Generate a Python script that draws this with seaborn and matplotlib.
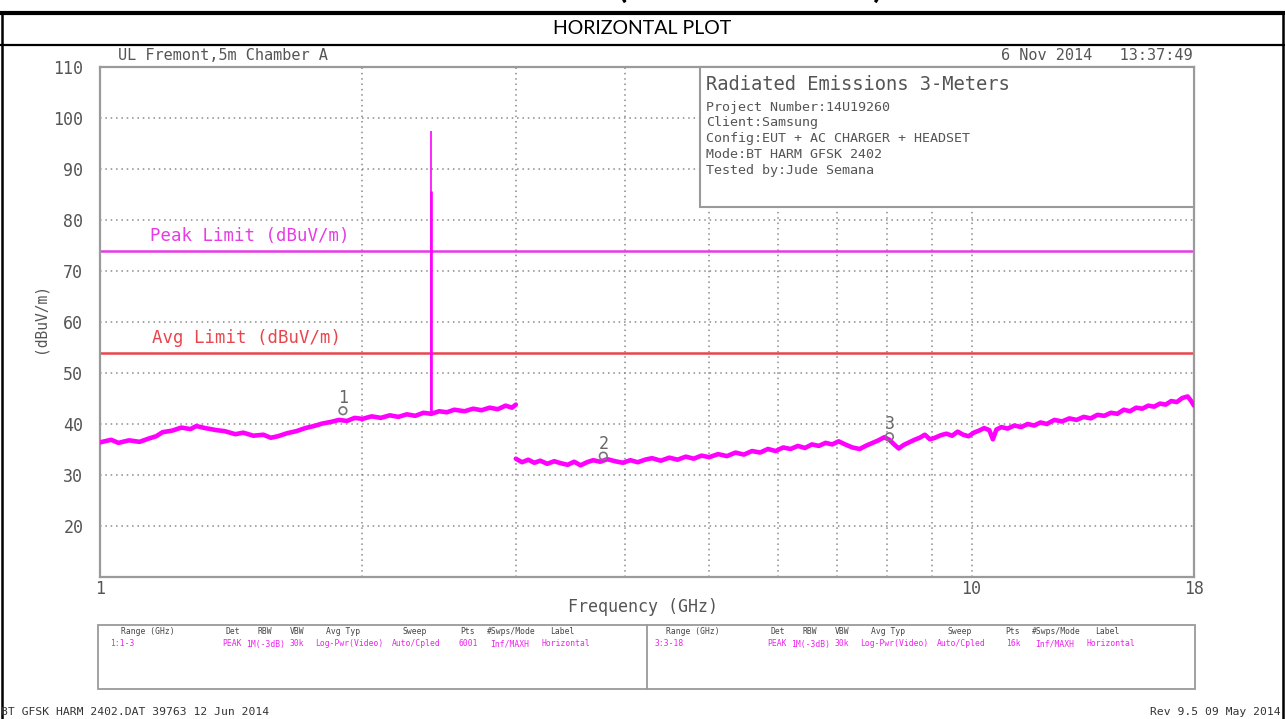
import numpy as np
import pandas as pd
import matplotlib
matplotlib.use("Agg")
import matplotlib.pyplot as plt
import seaborn as sns
from matplotlib.lines import Line2D
from matplotlib.patches import Rectangle
from matplotlib.ticker import NullFormatter

# ---------------- data ----------------
seg1_freq = [1.00, 1.03, 1.05, 1.08, 1.11, 1.14, 1.16, 1.18, 1.21, 1.24, 1.27, 1.29, 1.32,
             1.36, 1.39, 1.43, 1.46, 1.50, 1.54, 1.57, 1.60, 1.64, 1.68, 1.72, 1.76, 1.80,
             1.84, 1.88, 1.92, 1.96, 2.00, 2.05, 2.10, 2.15, 2.20, 2.25, 2.30, 2.35, 2.40,
             2.45, 2.50, 2.55, 2.62, 2.68, 2.74, 2.80, 2.86, 2.92, 2.97, 3.00]
seg1_val = [36.4, 36.9, 36.3, 36.8, 36.5, 37.2, 37.6, 38.4, 38.7, 39.3, 39.0, 39.6, 39.2,
            38.8, 38.6, 38.0, 38.3, 37.7, 37.9, 37.3, 37.6, 38.2, 38.6, 39.2, 39.6, 40.1,
            40.4, 40.8, 40.6, 41.2, 41.0, 41.5, 41.2, 41.7, 41.4, 41.9, 41.6, 42.2, 42.0,
            42.5, 42.3, 42.8, 42.5, 43.0, 42.7, 43.2, 42.9, 43.6, 43.2, 43.8]

seg2_freq = [3.00, 3.05, 3.10, 3.15, 3.20, 3.26, 3.32, 3.38, 3.44, 3.50, 3.56, 3.62, 3.68,
             3.75, 3.82, 3.90, 3.98, 4.06, 4.14, 4.22, 4.30, 4.40, 4.50, 4.60, 4.70, 4.80,
             4.90, 5.00, 5.12, 5.24, 5.36, 5.48, 5.60, 5.72, 5.84, 5.96, 6.08, 6.20, 6.32,
             6.44, 6.56, 6.68, 6.80, 6.92, 7.04, 7.16, 7.30, 7.44, 7.58, 7.70, 7.82, 7.94,
             8.05, 8.15, 8.25, 8.36, 8.48, 8.60, 8.72, 8.84, 8.96, 9.08, 9.22, 9.36, 9.50,
             9.64, 9.78, 9.92, 10.06, 10.20, 10.34, 10.48, 10.58, 10.68, 10.82, 11.00, 11.20,
             11.40, 11.60, 11.80, 12.00, 12.20, 12.45, 12.70, 12.95, 13.20, 13.45, 13.70,
             13.95, 14.20, 14.45, 14.70, 14.95, 15.20, 15.45, 15.70, 15.95, 16.20, 16.45,
             16.70, 16.95, 17.20, 17.45, 17.70, 17.85, 18.00]
seg2_val = [33.2, 32.5, 33.0, 32.4, 32.8, 32.2, 32.7, 32.3, 32.0, 32.6, 31.9, 32.5, 32.9,
            32.6, 33.1, 32.7, 32.4, 32.9, 32.5, 33.0, 33.3, 32.8, 33.4, 33.0, 33.6, 33.2,
            33.8, 33.5, 34.1, 33.7, 34.4, 34.0, 34.7, 34.4, 35.1, 34.7, 35.4, 35.1, 35.7,
            35.3, 36.0, 35.7, 36.3, 36.0, 36.6, 36.0, 35.4, 35.1, 35.8, 36.3, 36.8, 37.4,
            36.9, 36.0, 35.2, 35.9, 36.4, 36.9, 37.3, 37.9, 37.0, 37.3, 37.8, 38.1, 37.7,
            38.5, 37.9, 37.6, 38.3, 38.7, 39.2, 38.8, 37.0, 38.9, 39.4, 39.1, 39.7,
            39.4, 40.0, 39.7, 40.3, 40.0, 40.8, 40.5, 41.1, 40.8, 41.4, 41.1,
            41.8, 41.6, 42.2, 42.0, 42.8, 42.5, 43.2, 43.0, 43.6, 43.4, 44.0,
            43.8, 44.5, 44.3, 45.1, 45.4, 44.6, 43.6]

spike_freq = [2.40]
spike_base = [42.2]
spike_top = [97.4]
spike_shoulder = [85.6]

peak_limit = 74
avg_limit = 54

marker_freq = [1.90, 3.78, 8.05]
marker_val = [42.6, 33.7, 37.5]
marker_lbl = ["1", "2", "3"]

x_ticks = [1, 10, 18]
x_ticklabels = ["1", "10", "18"]
x_minor = [2, 3, 4, 5, 6, 7, 8, 9]
y_ticks = [20, 30, 40, 50, 60, 70, 80, 90, 100, 110]

info_title = "Radiated Emissions 3-Meters"
info_lines = ["Project Number:14U19260", "Client:Samsung",
              "Config:EUT + AC CHARGER + HEADSET", "Mode:BT HARM GFSK 2402",
              "Tested by:Jude Semana"]

tbl_headers = ["Range (GHz)", "Det", "RBW", "VBW", "Avg Typ", "Sweep", "Pts",
               "#Swps/Mode", "Label"]
tbl_row1 = ["1:1-3", "PEAK", "1M(-3dB)", "30k", "Log-Pwr(Video)", "Auto/Cpled",
            "6001", "Inf/MAXH", "Horizontal"]
tbl_row2 = ["3:3-18", "PEAK", "1M(-3dB)", "30k", "Log-Pwr(Video)", "Auto/Cpled",
            "16k", "Inf/MAXH", "Horizontal"]

# ---------------- style ----------------
sns.set_theme(style="white")
MONO = ["DejaVu Sans Mono"]
plt.rcParams["font.family"] = MONO

W, H = 1285, 719
def fx(x): return x / W
def fy(y): return 1 - y / H

TRACE = "#ff00ff"
PEAKC = "#e63be6"
AVGC = "#e8454c"
GRAY = "#555555"
GRID = "#8a8a8a"

fig = plt.figure(figsize=(W / 100, H / 100), dpi=100)
fig.patch.set_facecolor("white")

# document frame
fig.add_artist(Line2D([0, 1], [fy(13), fy(13)], color="black", lw=3))
fig.add_artist(Line2D([0, 1], [fy(45), fy(45)], color="black", lw=1.6))
fig.add_artist(Line2D([fx(2), fx(2)], [0, fy(13)], color="black", lw=1.8))
fig.add_artist(Line2D([fx(1283), fx(1283)], [0, fy(13)], color="black", lw=1.8))
fig.text(fx(618), fy(-2), "(LOW CHANNEL)", family=["Lato"], weight="bold", size=24,
         ha="left", va="baseline", color="black")
fig.text(fx(642), fy(29), "HORIZONTAL PLOT", family=["Lato"], size=14,
         ha="center", va="center", color="black")

# plot axes
ax = fig.add_axes([fx(100), fy(577), fx(1194) - fx(100), fy(67) - fy(577)])
ax.set_xscale("log")

df1 = pd.DataFrame({"f": seg1_freq, "v": seg1_val})
df2 = pd.DataFrame({"f": seg2_freq, "v": seg2_val})
sns.lineplot(data=df1, x="f", y="v", ax=ax, color=TRACE, lw=3.3, sort=False,
             estimator=None, zorder=3)
sns.lineplot(data=df2, x="f", y="v", ax=ax, color=TRACE, lw=3.3, sort=False,
             estimator=None, zorder=3)
ax.vlines(spike_freq, spike_base, spike_top, color=TRACE, lw=1.2, zorder=3)
ax.vlines(spike_freq, spike_base, spike_shoulder, color=TRACE, lw=1.9, zorder=3)

ax.axhline(peak_limit, color=PEAKC, lw=1.8, zorder=2)
ax.axhline(avg_limit, color=AVGC, lw=1.8, zorder=2)
ax.text(1.142, peak_limit + 2.8, "Peak Limit (dBuV/m)", color=PEAKC, size=12.5,
        va="center", ha="left")
ax.text(1.148, avg_limit + 2.9, "Avg Limit (dBuV/m)", color=AVGC, size=12.5,
        va="center", ha="left")

ax.scatter(marker_freq, marker_val, s=30, facecolors="none", edgecolors="#777777",
           lw=1.2, zorder=4)
for f, v, l in zip(marker_freq, marker_val, marker_lbl):
    ax.annotate(l, (f, v), xytext=(0, 9), textcoords="offset points", ha="center",
                va="center", color="#666666", size=12)

ax.set_xlim(1, 18)
ax.set_ylim(10, 110)
ax.set_xticks(x_ticks)
ax.set_xticklabels(x_ticklabels)
ax.set_xticks(x_minor, minor=True)
ax.xaxis.set_minor_formatter(NullFormatter())
ax.set_yticks(y_ticks)
ax.grid(True, which="both", axis="x", color=GRID, ls=(0, (1, 2.5)), lw=1.1)
ax.grid(True, which="major", axis="y", color=GRID, ls=(0, (1, 2.5)), lw=1.1)
ax.tick_params(which="both", length=0, labelcolor=GRAY, labelsize=12)
ax.tick_params(axis="y", pad=12)
ax.tick_params(axis="x", pad=2)
ax.set_xlabel("")
ax.set_ylabel("")
for s in ax.spines.values():
    s.set_color("#9a9a9a")
    s.set_linewidth(1.6)
    s.set_visible(True)

fig.text(fx(643), fy(607), "Frequency (GHz)", color=GRAY, size=12, ha="center", va="center")
fig.text(fx(40), fy(318), "(dBuV/m)", color=GRAY, size=10.5, rotation=90,
         ha="center", va="center")
fig.text(fx(118), fy(56), "UL Fremont,5m Chamber A", color=GRAY, size=11, ha="left", va="center")
fig.text(fx(1193), fy(56), "6 Nov 2014   13:37:49", color=GRAY, size=11, ha="right", va="center")

# info box
fig.add_artist(Rectangle((fx(700), fy(207)), fx(1194) - fx(700), fy(67) - fy(207),
                         transform=fig.transFigure, facecolor="white", edgecolor="#9a9a9a",
                         lw=1.5, zorder=2))
fig.text(fx(706), fy(84), info_title, color=GRAY, size=13.5, ha="left", va="center", zorder=5)
for i, line in enumerate(info_lines):
    fig.text(fx(706), fy(107 + 15.8 * i), line, color=GRAY, size=9.6, ha="left",
             va="center", zorder=5)

# bottom settings table
fig.add_artist(Rectangle((fx(98), fy(689)), fx(1195) - fx(98), fy(625) - fy(689),
                         transform=fig.transFigure, facecolor="none", edgecolor="#9a9a9a",
                         lw=1.3, zorder=2))
fig.add_artist(Line2D([fx(647), fx(647)], [fy(689), fy(625)], color="#9a9a9a", lw=1.3))
hdr_x = [148, 233, 265, 297, 343, 415, 468, 511, 562]
val_x = [110, 232, 266, 297, 349, 416, 468, 510, 566]
for k, (xo, row) in enumerate([(0, tbl_row1), (545, tbl_row2)]):
    for i, h in enumerate(tbl_headers):
        fig.text(fx(hdr_x[i] + xo), fy(632), h, color="#444444", size=5.8,
                 ha="center", va="center")
    for i, v in enumerate(row):
        fig.text(fx(val_x[i] + xo), fy(644), v, color="#ee22ee", size=5.8,
                 ha="left" if i == 0 else "center", va="center")

fig.text(fx(1), fy(712), "BT GFSK HARM 2402.DAT 39763 12 Jun 2014", color="#333333",
         size=8.2, ha="left", va="center")
fig.text(fx(1281), fy(712), "Rev 9.5 09 May 2014", color="#333333",
         size=8.2, ha="right", va="center")

fig.savefig("out.png", dpi=100, facecolor="white")
